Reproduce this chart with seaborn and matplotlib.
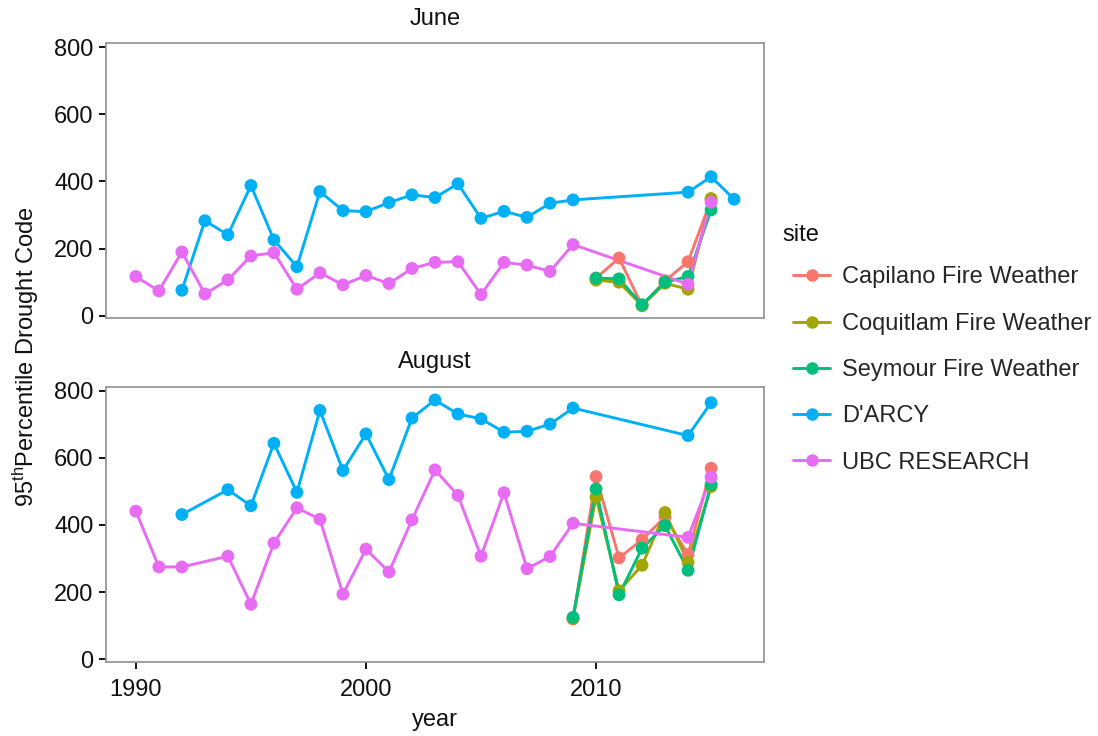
import matplotlib
matplotlib.use("Agg")
import matplotlib.pyplot as plt
from matplotlib.lines import Line2D
import seaborn as sns
import pandas as pd

# ---------------- data ----------------
sites = ["Capilano Fire Weather", "Coquitlam Fire Weather", "Seymour Fire Weather",
         "D'ARCY", "UBC RESEARCH"]
site_colors = ["#F8766D", "#A3A500", "#00BF7D", "#00B0F6", "#E76BF3"]
months = ["June", "August"]

fw_years = [2009, 2010, 2011, 2012, 2013, 2014, 2015]

# June
june_ubc_years = list(range(1990, 2010)) + [2014, 2015]
june_ubc = [117, 74, 190, 65, 107, 178, 188, 79, 128, 92, 120, 96, 141, 159, 161,
            63, 159, 151, 132, 212, 94, 338]
june_darcy_years = list(range(1992, 2010)) + [2014, 2015, 2016]
june_darcy = [76, 283, 241, 388, 226, 146, 370, 313, 310, 337, 360, 352, 393, 290,
              311, 293, 335, 345, 368, 414, 347]
june_fw_years = [2010, 2011, 2012, 2013, 2014, 2015]
june_capilano = [112, 172, 30, 104, 161, 345]
june_coquitlam = [106, 100, 30, 97, 79, 349]
june_seymour = [112, 110, 33, 100, 117, 315]

# August
aug_ubc_years = [1990, 1991, 1992] + list(range(1994, 2010)) + [2014, 2015]
aug_ubc = [441, 275, 275, 307, 164, 346, 451, 417, 194, 328, 260, 415, 564, 488,
           307, 496, 270, 306, 405, 363, 542]
aug_darcy_years = [1992] + list(range(1994, 2010)) + [2014, 2015]
aug_darcy = [431, 505, 457, 643, 497, 741, 562, 671, 535, 718, 772, 730, 716, 676,
             679, 700, 748, 666, 764]
aug_fw_years = fw_years
aug_capilano = [120, 544, 302, 356, 424, 312, 569]
aug_coquitlam = [122, 483, 204, 280, 437, 289, 514]
aug_seymour = [125, 507, 192, 331, 398, 265, 520]

y_ticks = [0, 200, 400, 600, 800]
x_ticks = [1990, 2000, 2010]

# ---------------- table ----------------
rows = []
def add(month, site, years, vals):
    for yr, v in zip(years, vals):
        rows.append({"month": month, "site": site, "year": yr, "dc": v})

add("June", sites[0], june_fw_years, june_capilano)
add("June", sites[1], june_fw_years, june_coquitlam)
add("June", sites[2], june_fw_years, june_seymour)
add("June", sites[3], june_darcy_years, june_darcy)
add("June", sites[4], june_ubc_years, june_ubc)
add("August", sites[0], aug_fw_years, aug_capilano)
add("August", sites[1], aug_fw_years, aug_coquitlam)
add("August", sites[2], aug_fw_years, aug_seymour)
add("August", sites[3], aug_darcy_years, aug_darcy)
add("August", sites[4], aug_ubc_years, aug_ubc)
df = pd.DataFrame(rows)
df["site"] = pd.Categorical(df["site"], categories=sites, ordered=True)
df = df.sort_values(["site", "year"])

# ---------------- style ----------------
sns.set_theme(style="white")
plt.rcParams["font.family"] = ["Liberation Sans", "DejaVu Sans"]
plt.rcParams["mathtext.fontset"] = "custom"
plt.rcParams["mathtext.rm"] = "Liberation Sans"
plt.rcParams["mathtext.it"] = "Liberation Sans"
FS = 17
TXT = "#111111"
palette = dict(zip(sites, site_colors))

fig, axes = plt.subplots(2, 1, figsize=(10.98, 7.36), dpi=100, sharex=True)
fig.subplots_adjust(left=0.0965, right=0.6958, top=0.9416, bottom=0.1005, hspace=0.247)

for ax, month in zip(axes, months):
    sub = df[df["month"] == month]
    sns.lineplot(data=sub, x="year", y="dc", hue="site", hue_order=sites,
                 palette=palette, linewidth=2.1, sort=True, estimator=None,
                 legend=False, ax=ax, zorder=2)
    sns.scatterplot(data=sub, x="year", y="dc", hue="site", hue_order=sites,
                    palette=palette, s=85, linewidth=0, legend=False, ax=ax, zorder=3)
    ax.set_xlim(1988.7, 2017.3)
    ax.set_ylim(-8, 812)
    ax.set_yticks(y_ticks)
    ax.set_xticks(x_ticks)
    ax.set_title(month, fontsize=FS, pad=13, color=TXT)
    ax.set_xlabel("")
    ax.set_ylabel("")
    for sp in ax.spines.values():
        sp.set_color("#999999")
        sp.set_linewidth(1.3)
    ax.tick_params(axis="both", which="both", direction="out", length=5, width=1.4,
                   color=TXT, labelsize=FS, labelcolor=TXT, pad=4,
                   bottom=True, left=True)
    ax.set_facecolor("white")

axes[0].tick_params(axis="x", bottom=False, labelbottom=False)
axes[1].tick_params(axis="x", pad=7)
axes[1].set_xlabel("year", fontsize=FS, color=TXT, labelpad=6)
fig.text(0.024, 0.515, "95$^{\\mathrm{th}}$Percentile Drought Code", rotation=90,
         fontsize=FS, ha="center", va="center", color=TXT)

handles = [Line2D([0], [0], color=c, lw=2.1, marker="o", markersize=9,
                  markeredgewidth=0) for c in site_colors]
fig.text(782 / 1098, 1 - 235 / 736, "site", fontsize=FS, ha="left", va="center",
         color=TXT)
leg = fig.legend(handles, sites, loc="upper left",
                 bbox_to_anchor=(0.714, 1 - 257 / 736), frameon=False, fontsize=FS,
                 handlelength=1.55, handletextpad=0.5, labelspacing=1.03,
                 borderaxespad=0.0)

fig.savefig("out.png", dpi=100, facecolor="white")
